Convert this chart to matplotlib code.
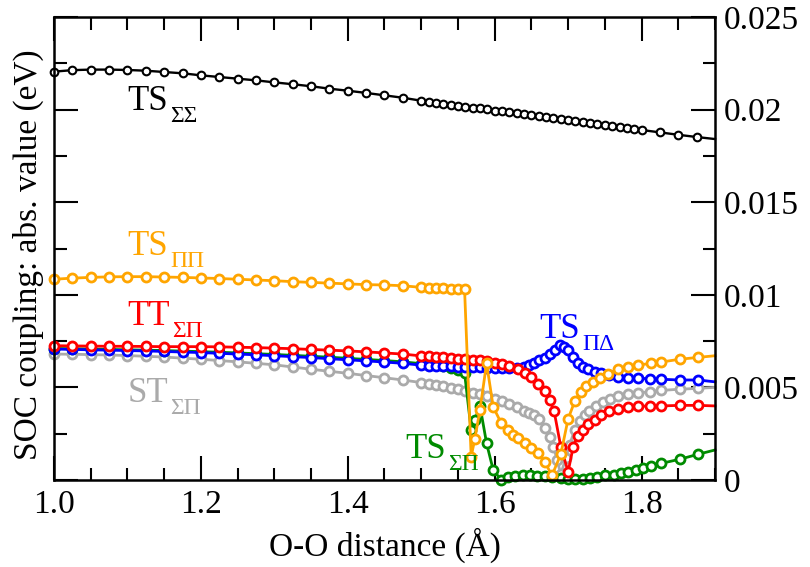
import matplotlib
matplotlib.use('Agg')
import matplotlib.pyplot as plt
from matplotlib.ticker import MultipleLocator, FuncFormatter

plt.rcParams['font.family'] = 'serif'
plt.rcParams['font.serif'] = ['Liberation Serif', 'DejaVu Serif']

# common grid 1.0 .. 1.475 (step 0.025)
x_base = [1.0, 1.025, 1.05, 1.075, 1.1, 1.125, 1.15, 1.175, 1.2, 1.225,
          1.25, 1.275, 1.3, 1.325, 1.35, 1.375, 1.4, 1.425, 1.45, 1.475]

# TS_SigmaSigma (black)
x_ss = x_base + [1.50, 1.51, 1.52, 1.53, 1.54, 1.55, 1.56, 1.57, 1.58, 1.59,
                 1.60, 1.61, 1.62, 1.63, 1.64, 1.65, 1.66, 1.67, 1.68, 1.69,
                 1.70, 1.71, 1.72, 1.73, 1.74, 1.75, 1.76, 1.77, 1.78, 1.79,
                 1.80, 1.825, 1.85, 1.875, 1.90]
y_ss = [0.02205, 0.02213, 0.02216, 0.02216, 0.02214, 0.0221, 0.02203, 0.02196, 0.02185, 0.02176,
        0.02167, 0.02158, 0.02147, 0.02137, 0.02126, 0.02113, 0.02102, 0.0209, 0.02077, 0.02064,
        0.02048, 0.02043, 0.02037, 0.02032, 0.02027, 0.02022, 0.02016, 0.02011, 0.02006, 0.02001,
        0.01995, 0.0199, 0.01985, 0.0198, 0.01974, 0.01969, 0.01964, 0.01959, 0.01953, 0.01948,
        0.01943, 0.01938, 0.01932, 0.01927, 0.01922, 0.01917, 0.01911, 0.01906, 0.01901, 0.01896,
        0.0189, 0.01877, 0.01864, 0.01852, 0.01841]

# TS_PiPi (orange)
x_pp = x_base + [1.50, 1.51, 1.52, 1.53, 1.54, 1.55, 1.559, 1.568, 1.573, 1.58,
                 1.589, 1.598, 1.609, 1.618, 1.625, 1.632, 1.641, 1.65, 1.659, 1.668,
                 1.678, 1.69, 1.70, 1.709, 1.717, 1.725, 1.734, 1.743, 1.754, 1.768,
                 1.782, 1.795, 1.813, 1.827, 1.852, 1.877, 1.90]
y_pp = [0.01084, 0.0109, 0.01094, 0.01097, 0.01098, 0.01098, 0.01096, 0.01094, 0.01091, 0.01088,
        0.01084, 0.0108, 0.01076, 0.01071, 0.01067, 0.01063, 0.01059, 0.01055, 0.01053, 0.01049,
        0.0104, 0.01038, 0.01036, 0.01035, 0.01034, 0.01033, 0.01031, 0.00126, 0.00222, 0.0038,
        0.0063, 0.00395, 0.00306, 0.0027, 0.00243, 0.00225, 0.00202, 0.00171, 0.00144, 0.00099,
        0.00025, 0.00138, 0.0033, 0.00425, 0.00477, 0.00505, 0.0053, 0.0055, 0.0057, 0.00598,
        0.0061, 0.0062, 0.0063, 0.00637, 0.00652, 0.00662, 0.00671]

# TT_SigmaPi (red)
x_tt = x_base + [1.50, 1.51, 1.52, 1.53, 1.54, 1.55, 1.56, 1.57, 1.58, 1.59,
                 1.60, 1.61, 1.62, 1.632, 1.641, 1.65, 1.659, 1.668, 1.675, 1.681,
                 1.69, 1.70, 1.707, 1.713, 1.72, 1.727, 1.736, 1.745, 1.755, 1.768,
                 1.782, 1.795, 1.812, 1.827, 1.852, 1.877, 1.90]
y_tt = [0.00725, 0.00724, 0.00723, 0.00722, 0.00722, 0.00721, 0.0072, 0.0072, 0.0072, 0.00719,
        0.00717, 0.00715, 0.00712, 0.00709, 0.00705, 0.00701, 0.00697, 0.00692, 0.00686, 0.0068,
        0.0067, 0.00668, 0.00665, 0.00662, 0.00659, 0.00656, 0.00653, 0.0065, 0.00646, 0.0064,
        0.00632, 0.00624, 0.00614, 0.006, 0.0058, 0.00558, 0.0052, 0.0048, 0.0043, 0.0037,
        0.0018, 0.00045, 0.0018, 0.0024, 0.0027, 0.003, 0.00324, 0.0035, 0.0037, 0.00385,
        0.00392, 0.00398, 0.004, 0.004, 0.00403, 0.00403, 0.004]

# TS_PiDelta (blue)
x_pd = x_base + [1.50, 1.51, 1.52, 1.53, 1.54, 1.55, 1.56, 1.57, 1.58, 1.59,
                 1.60, 1.61, 1.62, 1.63, 1.64, 1.647, 1.654, 1.661, 1.668, 1.675,
                 1.682, 1.689, 1.695, 1.70, 1.707, 1.713, 1.72, 1.727, 1.736, 1.745,
                 1.755, 1.768, 1.782, 1.795, 1.812, 1.827, 1.852, 1.877, 1.90]
y_pd = [0.00707, 0.00705, 0.00703, 0.00701, 0.00699, 0.00697, 0.00694, 0.00691, 0.00688, 0.00684,
        0.0068, 0.00676, 0.00671, 0.00666, 0.00661, 0.00655, 0.00649, 0.00643, 0.00637, 0.0063,
        0.0062, 0.00618, 0.00616, 0.00615, 0.00614, 0.00612, 0.00611, 0.0061, 0.00608, 0.00606,
        0.00604, 0.00603, 0.00603, 0.00606, 0.00612, 0.0062, 0.0063, 0.00648, 0.0066, 0.0068,
        0.00702, 0.00729, 0.0072, 0.007, 0.00666, 0.0063, 0.00612, 0.00598, 0.00585, 0.00576,
        0.00567, 0.00558, 0.00552, 0.00549, 0.00547, 0.00544, 0.0054, 0.0054, 0.0053]

# TS_SigmaPi (green)
x_sp = x_base + [1.50, 1.51, 1.52, 1.53, 1.54, 1.55, 1.559, 1.568, 1.573, 1.58,
                 1.589, 1.598, 1.609, 1.618, 1.628, 1.638, 1.648, 1.658, 1.668, 1.678,
                 1.69, 1.70, 1.71, 1.72, 1.73, 1.74, 1.75, 1.763, 1.772, 1.781,
                 1.792, 1.802, 1.813, 1.827, 1.852, 1.877, 1.90]
y_sp = [0.0071, 0.00709, 0.00707, 0.00705, 0.00703, 0.00701, 0.00699, 0.00696, 0.00693, 0.0069,
        0.00686, 0.00682, 0.00678, 0.00673, 0.00668, 0.00663, 0.00657, 0.00651, 0.00645, 0.00638,
        0.00628, 0.00624, 0.0062, 0.00614, 0.00606, 0.00596, 0.00578, 0.0027, 0.00324, 0.004,
        0.00198, 0.00054, 0.0, 0.00018, 0.0002, 0.00025, 0.00025, 0.00022, 0.0002, 0.00015,
        0.0001, 0.00005, 0.00003, 0.00008, 0.00012, 0.00018, 0.00025, 0.00027, 0.0004, 0.00045,
        0.00054, 0.00063, 0.00076, 0.0009, 0.00112, 0.00139, 0.00162]

# ST_SigmaPi (grey)
x_st = x_base + [1.50, 1.51, 1.52, 1.53, 1.54, 1.55, 1.56, 1.57, 1.58, 1.59,
                 1.60, 1.61, 1.62, 1.63, 1.64, 1.647, 1.654, 1.661, 1.668, 1.675,
                 1.68, 1.685, 1.69, 1.697, 1.702, 1.709, 1.716, 1.723, 1.729, 1.738,
                 1.747, 1.757, 1.768, 1.782, 1.795, 1.812, 1.827, 1.852, 1.877, 1.90]
y_st = [0.0068, 0.00679, 0.00677, 0.00675, 0.00672, 0.00668, 0.00664, 0.00658, 0.00652, 0.00645,
        0.00638, 0.0063, 0.00622, 0.0061, 0.00598, 0.00587, 0.00576, 0.00564, 0.00552, 0.0054,
        0.00526, 0.0052, 0.00512, 0.00505, 0.00497, 0.0049, 0.0048, 0.00471, 0.00462, 0.00452,
        0.0044, 0.00425, 0.0041, 0.00392, 0.0037, 0.0036, 0.0035, 0.0033, 0.0028, 0.0023,
        0.0018, 0.0011, 0.0003, 0.0012, 0.0019, 0.0027, 0.0032, 0.0035, 0.0037, 0.004,
        0.0042, 0.0044, 0.00452, 0.00462, 0.0047, 0.00477, 0.00484, 0.0049, 0.00495, 0.005]

# curve labels: main text, subscript, x, baseline y, colour
labels = [
    ('TS', 'ΣΣ', 1.1, 0.01998, 'black'),
    ('TS', 'ΠΠ', 1.1, 0.01215, '#FFA500'),
    ('TT', 'ΣΠ', 1.1, 0.00837, '#FF0000'),
    ('ST', 'ΣΠ', 1.1, 0.00421, '#AAAAAA'),
    ('TS', 'ΠΔ', 1.661, 0.00767, '#0000FF'),
    ('TS', 'ΣΠ', 1.478, 0.00119, '#008B00'),
]

fig = plt.figure(figsize=(8.1, 5.67), dpi=100)
ax = fig.add_axes([54 / 810, 87 / 567, 661 / 810, 463 / 567])

series = [
    (x_st, y_st, '#AAAAAA'),
    (x_sp, y_sp, '#008B00'),
    (x_pd, y_pd, '#0000FF'),
    (x_tt, y_tt, '#FF0000'),
    (x_pp, y_pp, '#FFA500'),
]
for xs, ys, c in series:
    ax.plot(xs, ys, '-o', color=c, lw=2, ms=6.5, mew=2, mfc='white',
            markevery=slice(0, len(xs) - 1), clip_on=False)

ax.plot(x_ss, y_ss, '-o', color='black', lw=1.7, ms=5.5, mew=1.5, mfc='white',
        markevery=slice(0, len(x_ss) - 1), clip_on=False)

fs = 24
for main, sub, lx, ly, c in labels:
    t = ax.text(lx, ly, main, color=c, fontsize=25, ha='left', va='baseline')
    ax.annotate(sub, xy=(1, ly), xycoords=(t, 'data'), xytext=(1.5, -8.5),
                textcoords='offset points', color=c, fontsize=17,
                ha='left', va='baseline')

ax.set_xlim(1.0, 1.9)
ax.set_ylim(0, 0.025)
ax.xaxis.set_major_locator(MultipleLocator(0.2))
ax.xaxis.set_minor_locator(MultipleLocator(0.05))
ax.yaxis.set_major_locator(MultipleLocator(0.005))
ax.yaxis.set_minor_locator(MultipleLocator(0.0025))
ax.xaxis.set_major_formatter(FuncFormatter(lambda v, p: '%.1f' % v))
ax.yaxis.set_major_formatter(FuncFormatter(lambda v, p: '%g' % round(v, 4)))

ax.tick_params(which='both', direction='in', top=True, bottom=True,
               left=True, right=True, labelleft=False, labelright=True,
               width=1.5, labelsize=fs)
ax.tick_params(which='major', length=17)
ax.tick_params(which='minor', length=9)
ax.tick_params(axis='x', pad=7)
ax.tick_params(axis='y', pad=6)
for s in ax.spines.values():
    s.set_linewidth(1.8)

fig.text(28 / 810, 1 - 255 / 567, 'SOC coupling: abs. value (eV)',
         rotation=90, ha='center', va='center', fontsize=fs)
fig.text(385 / 810, 1 - 545 / 567, 'O-O distance (Å)',
         ha='center', va='center', fontsize=fs)

fig.savefig('out.png', dpi=100)
